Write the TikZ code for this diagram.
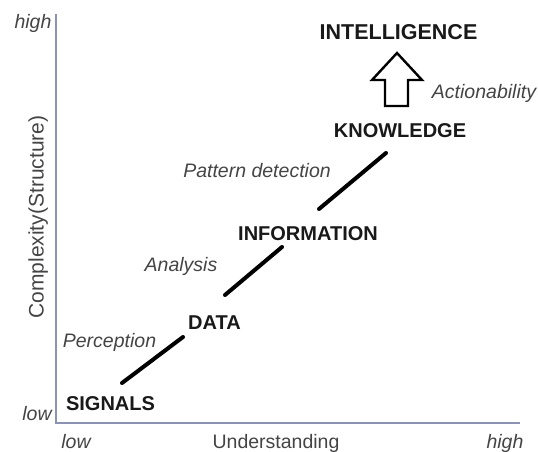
\documentclass[tikz,border=0pt]{standalone}
\usepackage{fontspec}
\setmainfont{Liberation Sans}
\definecolor{axisblue}{RGB}{140,146,180}
\definecolor{labelgray}{RGB}{68,68,68}
\tikzset{
  stage/.style={font=\fontsize{20}{24}\selectfont\bfseries, text=black!90, inner sep=0pt, anchor=base},
  process/.style={font=\fontsize{19.5}{23}\selectfont\itshape, text=labelgray, inner sep=0pt, anchor=base},
  axislabel/.style={font=\fontsize{19.5}{23}\selectfont, text=labelgray, inner sep=0pt, anchor=base},
  link/.style={line width=4pt, line cap=round},
}

\begin{document}
\begin{tikzpicture}[x=1pt,y=-1pt]
			%%%%% START %%%%%
			\useasboundingbox (0,0) rectangle (538,452);
			
			% axes
			\draw[axisblue, line width=2pt] (56,14) -- (56,423) -- (520,423);
			\node[axislabel, font=\fontsize{19.5}{23}\selectfont\itshape] (yhigh) at (33,29) {high};
			\node[axislabel, font=\fontsize{19.5}{23}\selectfont\itshape] (ylow) at (37,420) {low};
			\node[axislabel, font=\fontsize{19.5}{23}\selectfont\itshape] (xlow) at (76,448) {low};
			\node[axislabel, font=\fontsize{19.5}{23}\selectfont\itshape] (xhigh) at (505,448) {high};
			\node[axislabel] (xname) at (276,448) {Understanding};
			\node[axislabel, font=\fontsize{21}{25}\selectfont, rotate=90] (yname) at (43.5,217) {Complexity(Structure)};
			
			% stages
			\node[stage] (signals) at (110.5,410) {SIGNALS};
			\node[stage] (data) at (214.5,329) {DATA};
			\node[stage] (information) at (308,240) {INFORMATION};
			\node[stage] (knowledge) at (400,137) {KNOWLEDGE};
			\node[stage, font=\fontsize{21.5}{25}\selectfont\bfseries] (intelligence) at (398.5,40) {INTELLIGENCE};
			
			% processes
			\node[process] (perception) at (109.5,347) {Perception};
			\node[process] (analysis) at (181,271) {Analysis};
			\node[process] (pattern) at (257,177) {Pattern detection};
			\node[process] (action) at (484,98) {Actionability};
			
			% links
			\coordinate (s1) at (122,383);
			\coordinate (d1) at (183,337);
			\coordinate (d2) at (225,295);
			\coordinate (i1) at (282,247);
			\coordinate (i2) at (319,209);
			\coordinate (k1) at (386,153);
			\draw[link] (s1) -- (d1);
			\draw[link] (d2) -- (i1);
			\draw[link] (i2) -- (k1);
			
			% open arrow
			\draw[line width=2.4pt, line join=miter] (397,53) -- (422,80) -- (408,80) -- (408,106) -- (385,106) -- (385,80) -- (372,80) -- cycle;
			%%%%% END %%%%%
		\end{tikzpicture}
\end{document}
